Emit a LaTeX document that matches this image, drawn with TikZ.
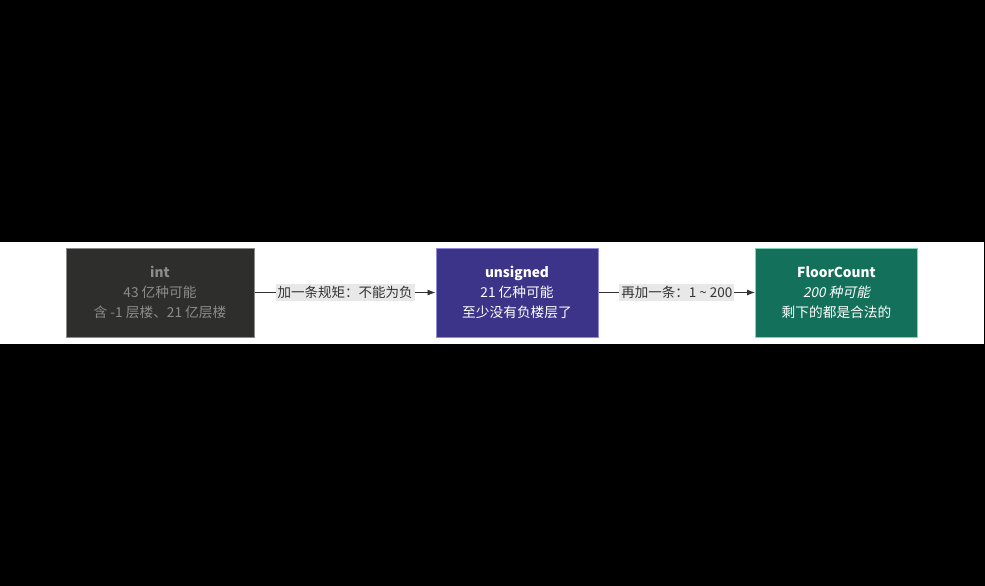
\documentclass[tikz,border=0pt]{standalone}
\usepackage{fontspec}
\setmainfont{Noto Sans CJK SC}
\newfontfamily\cjkit{Noto Sans CJK SC}[FakeSlant=0.2]
\usetikzlibrary{arrows.meta}
\definecolor{bandwhite}{HTML}{FFFFFF}
\definecolor{intfill}{HTML}{2E2E2C}
\definecolor{intdraw}{HTML}{8A8A8A}
\definecolor{inttext}{HTML}{8C8C8C}
\definecolor{unsfill}{HTML}{3C3488}
\definecolor{unsdraw}{HTML}{9088D8}
\definecolor{flfill}{HTML}{13705A}
\definecolor{fldraw}{HTML}{80D4BA}
\definecolor{lblbg}{HTML}{E8E8E8}
\definecolor{lbltext}{HTML}{333333}
\definecolor{edgecol}{HTML}{333333}
\tikzset{
  boxnode/.style={draw, line width=1pt, minimum height=89pt, align=center, inner sep=0pt, font=\fontsize{13.7}{20}\selectfont},
  lblnode/.style={fill=lblbg, text=lbltext, inner sep=2pt, font=\fontsize{13.5}{16}\selectfont},
  edgeline/.style={draw=edgecol, line width=0.9pt, -{Latex[length=8pt,width=6pt]}}
}
\begin{document}
\begin{tikzpicture}[x=1pt,y=-1pt]
\fill[black] (0,0) rectangle (985,586);
\useasboundingbox (0,0) rectangle (985,586);
\fill[bandwhite] (0,242) rectangle (984,343.5);
\node[boxnode, fill=intfill, draw=intdraw, text=inttext, minimum width=188pt] (int) at (160,292.5)
  {\textbf{int}\\43 亿种可能\\含 -1 层楼、21 亿层楼};
\node[boxnode, fill=unsfill, draw=unsdraw, text=white, minimum width=162pt] (uns) at (517,292.5)
  {\textbf{unsigned}\\21 亿种可能\\至少没有负楼层了};
\node[boxnode, fill=flfill, draw=fldraw, text=white, minimum width=162pt] (fl) at (836.5,292.5)
  {\textbf{FloorCount}\\{\cjkit 200 种可能}\\剩下的都是合法的};
\draw[edgeline] (int.east) -- (uns.west) node[midway, lblnode] (l1) {加一条规矩：不能为负};
\draw[edgeline] (uns.east) -- (fl.west) node[midway, lblnode] (l2) {再加一条：1 \textasciitilde\ 200};
\end{tikzpicture}
\end{document}
